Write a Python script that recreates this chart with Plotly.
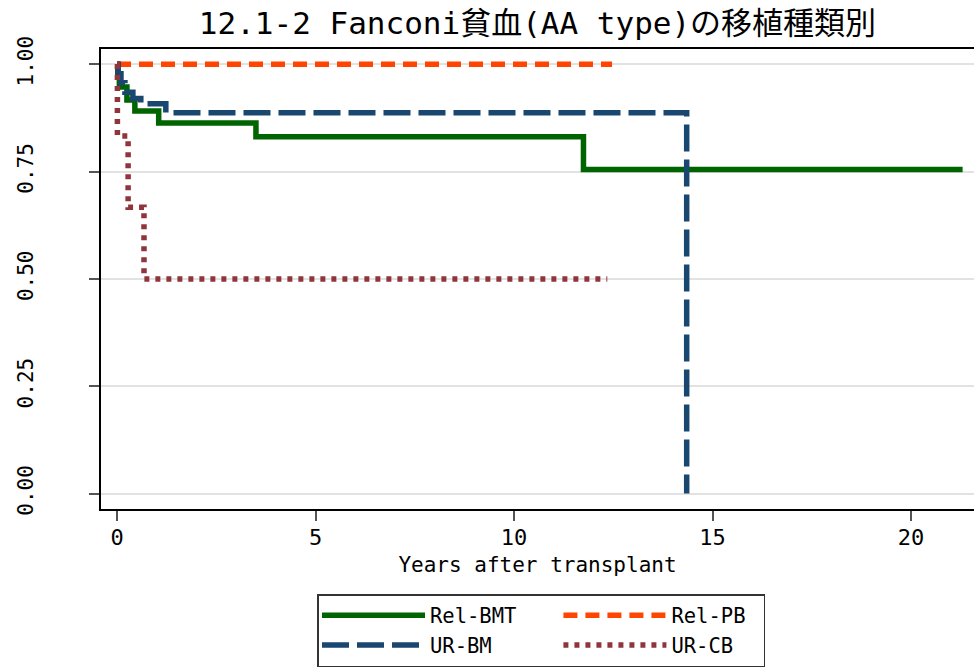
import plotly.graph_objects as go

# Kaplan-Meier estimates
rel_bmt_t = [0, 0.02, 0.06, 0.25, 0.45, 1.05, 3.5, 11.75, 21.3]
rel_bmt_s = [1.0, 0.974, 0.947, 0.917, 0.891, 0.863, 0.831, 0.755, 0.755]

rel_pb_t = [0, 12.47]
rel_pb_s = [1.0, 1.0]

ur_bm_t = [0, 0.03, 0.1, 0.2, 0.4, 0.6, 1.23, 14.35]
ur_bm_s = [1.0, 0.978, 0.957, 0.935, 0.92, 0.908, 0.887, 0.0]

ur_cb_t = [0, 0.01, 0.28, 0.68, 12.35]
ur_cb_s = [1.0, 0.833, 0.667, 0.5, 0.5]

series_names = ["Rel-BMT", "Rel-PB", "UR-BM", "UR-CB"]

x_ticks = [0, 5, 10, 15, 20]
y_ticks = [0, 0.25, 0.5, 0.75, 1.0]
y_tick_labels = ["0.00", "0.25", "0.50", "0.75", "1.00"]

title_text = "12.1-2 Fanconi貧血(AA type)の移植種類別"
x_title = "Years after transplant"

FONT = "DejaVu Sans Mono, Noto Sans CJK JP"
PAD1 = "\u00a0" * 3  # widens the first legend column
PAD2 = "\u00a0" * 1  # widens the second legend column

fig = go.Figure()
fig.add_trace(go.Scatter(x=rel_bmt_t, y=rel_bmt_s, mode="lines", name=series_names[0] + PAD1,
                         legendgroup="col1",
                         line=dict(color="#006400", width=5.5, shape="hv")))
fig.add_trace(go.Scatter(x=rel_pb_t, y=rel_pb_s, mode="lines", name=series_names[1] + PAD2,
                         legendgroup="col2",
                         line=dict(color="#FF4500", width=5.5, shape="hv", dash="14px,8px")))
fig.add_trace(go.Scatter(x=ur_bm_t, y=ur_bm_s, mode="lines", name=series_names[2],
                         legendgroup="col1",
                         line=dict(color="#1A476F", width=5.5, shape="hv", dash="27px,8px")))
fig.add_trace(go.Scatter(x=ur_cb_t, y=ur_cb_s, mode="lines", name=series_names[3],
                         legendgroup="col2",
                         line=dict(color="#90353B", width=5.5, shape="hv", dash="5px,6px")))

fig.update_layout(
    width=974, height=670,
    margin=dict(l=101, r=0, t=49, b=161, pad=0, autoexpand=False),
    paper_bgcolor="white", plot_bgcolor="white",
    font=dict(family=FONT, color="black", size=21),
    title=dict(text=title_text, x=0.5, xref="paper", xanchor="center",
               y=1 - 23 / 670, yref="container", yanchor="middle",
               font=dict(family=FONT, size=31, color="black")),
    showlegend=True,
    legend=dict(orientation="h", x=(317 - 101) / 873, xanchor="left",
                y=(509 - 594) / 460, yanchor="top",
                bordercolor="#333333", borderwidth=1.5, bgcolor="white",
                font=dict(family=FONT, size=20.5, color="black"),
                itemwidth=103,
                traceorder="grouped", tracegroupgap=0),
    xaxis=dict(range=[-0.403, 21.587], tickvals=x_ticks, showgrid=False,
               zeroline=False, showline=True, linecolor="black", linewidth=1.5,
               mirror=True, ticks="outside", ticklen=10, tickwidth=2, tickcolor="#555555",
               tickfont=dict(family=FONT, size=22), ticklabelstandoff=-2,
               automargin=False,
               title=dict(text=x_title, standoff=8, font=dict(family=FONT, size=21))),
    yaxis=dict(range=[-0.036, 1.0356], tickvals=y_ticks, ticktext=y_tick_labels,
               showgrid=True, gridcolor="#e2e2e2", gridwidth=2,
               zeroline=False, showline=True, linecolor="black", linewidth=1.5,
               ticks="outside", ticklen=10, tickwidth=2, tickcolor="#555555",
               tickangle=-90, tickfont=dict(family=FONT, size=21),
               ticklabelstandoff=48, automargin=False),
)

fig.write_html(
    "out.html",
    config={"displayModeBar": False},
    post_script="document.body.style.margin='0';"
                "document.body.style.overflow='hidden';"
                "document.documentElement.style.overflow='hidden';",
)
